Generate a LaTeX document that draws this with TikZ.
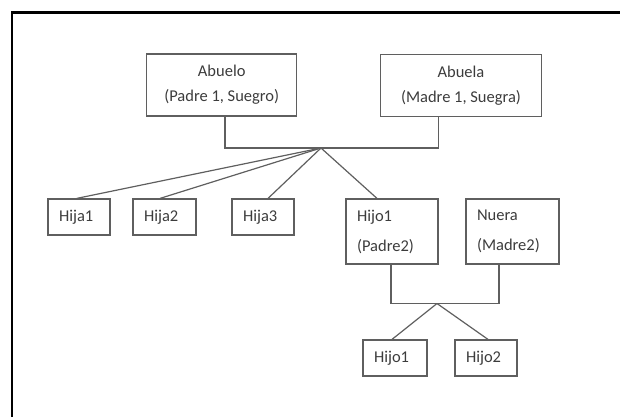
\documentclass[tikz,border=0pt]{standalone}
\usepackage{fontspec}
\setmainfont{Carlito}
\usepackage{tikz}
\usetikzlibrary{calc}
\definecolor{linea}{RGB}{95,95,95}
\definecolor{texto}{RGB}{60,60,60}

\begin{document}
\begin{tikzpicture}[x=1pt,y=-1pt,
  caja/.style={draw=linea,line width=1.2pt,inner sep=0pt,text=texto,
    font=\fontsize{16.5}{25}\selectfont},
  cajac/.style={caja,align=center},
  cajal/.style={caja,align=left,inner xsep=11pt},
  rama/.style={linea,line width=1.2pt}]
\useasboundingbox (0,0) rectangle (620,417);
% marco
\draw[black,line width=2.6pt] (12,417) -- (12,12.7) -- (620,12.7);
% abuelos
\node[cajac,minimum width=150pt,minimum height=62pt](abuelo) at (221.7,85) {Abuelo\\(Padre 1, Suegro)};
\node[cajac,minimum width=161pt,minimum height=62pt](abuela) at (461,85.3) {Abuela\\(Madre 1, Suegra)};
\coordinate (pareja1) at (321,148);
% hijos
\foreach \n/\X/\W in {1/79/62,2/164.5/63,3/263/62}{
  \node[cajal,minimum width=\W pt,minimum height=36pt,text width={\W pt-22pt}](hija\n) at (\X,217) {Hija\n};}
\node[cajal,minimum width=92pt,minimum height=65pt,text width=70pt,
  font=\fontsize{16.5}{30}\selectfont](hijo) at (392,231.5) {Hijo1\\(Padre2)};
\node[cajal,minimum width=93pt,minimum height=65pt,text width=71pt,
  font=\fontsize{16.5}{30}\selectfont](nuera) at (512.5,231.5) {Nuera\\(Madre2)};
\coordinate (pareja2) at (437,303.5);
% nietos
\node[cajal,minimum width=64pt,minimum height=36pt,text width=42pt](nieto1) at (395,358) {Hijo1};
\node[cajal,minimum width=62pt,minimum height=36pt,text width=40pt](nieto2) at (486,358) {Hijo2};
% lineas
\draw[rama] ([xshift=3.3pt]abuelo.south) |- (pareja1) -| ([xshift=-22.7pt]abuela.south);
\draw[rama] (pareja1) -- ([xshift=-2.3pt]hija1.north);
\draw[rama] (pareja1) -- ([xshift=-4.5pt]hija2.north);
\draw[rama] (pareja1) -- ([xshift=5pt]hija3.north);
\draw[rama] (pareja1) -- ([xshift=-15pt]hijo.north);
\draw[rama] ([xshift=-1pt]hijo.south) |- (pareja2) -| ([xshift=-13.5pt]nuera.south);
\draw[rama] (pareja2) -- ([xshift=-3pt]nieto1.north);
\draw[rama] (pareja2) -- ([xshift=2pt]nieto2.north);
\end{tikzpicture}
\end{document}
